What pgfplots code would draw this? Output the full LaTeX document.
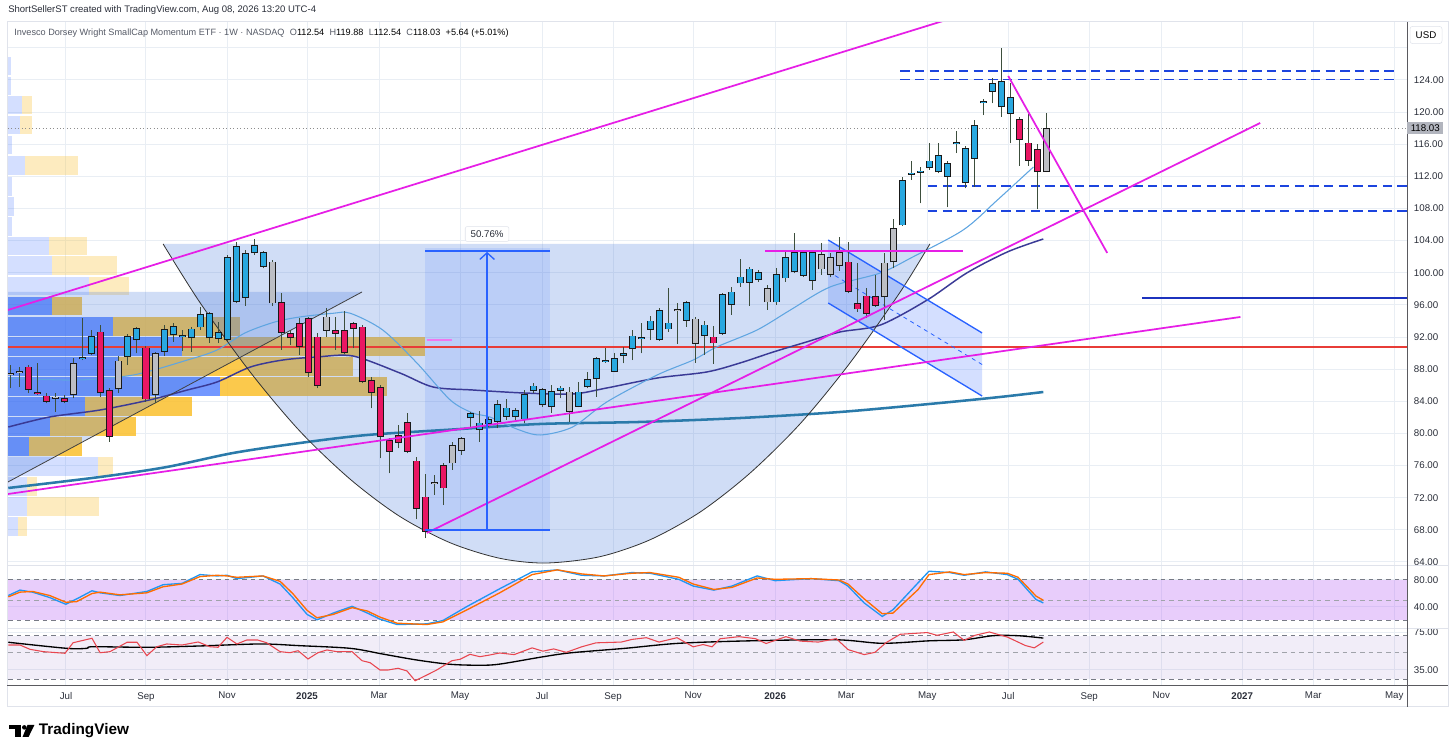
\documentclass[border=0pt]{standalone}
\usepackage{pgfplots}
\pgfplotsset{compat=1.18}
\usepackage{pgfplotstable}
\usepackage{fontspec}
\setmainfont{Liberation Sans}
\usetikzlibrary{arrows.meta}

\definecolor{gridc}{RGB}{233,238,244}
\definecolor{labc}{RGB}{42,46,57}
\definecolor{legc}{RGB}{85,90,102}
\definecolor{framec}{RGB}{224,227,235}
\definecolor{axc}{RGB}{90,90,95}
\definecolor{magc}{RGB}{230,30,230}
\definecolor{pocc}{RGB}{232,60,55}
\definecolor{dashb}{RGB}{28,68,222}
\definecolor{solb}{RGB}{28,50,190}
\definecolor{chb}{RGB}{41,98,255}
\definecolor{cupc}{RGB}{70,120,220}
\definecolor{vpB}{RGB}{41,98,255}
\definecolor{vpY}{RGB}{251,192,45}
\definecolor{slowc}{RGB}{42,122,170}
\definecolor{medc}{RGB}{58,58,150}
\definecolor{fastc}{RGB}{95,165,225}
\definecolor{candB}{RGB}{41,168,224}
\definecolor{candR}{RGB}{233,22,99}
\definecolor{candG}{RGB}{188,190,196}
\definecolor{outc}{RGB}{25,25,25}
\definecolor{wickc}{RGB}{60,78,60}
\definecolor{stB}{RGB}{33,150,243}
\definecolor{stO}{RGB}{255,109,0}
\definecolor{bandc}{RGB}{180,90,245}
\definecolor{rsib}{RGB}{126,87,194}
\definecolor{rsir}{RGB}{232,70,80}
\definecolor{dashg}{RGB}{120,123,134}
\definecolor{pricelab}{RGB}{178,181,190}

\newcommand\tvs{\fontsize{7.3}{8.5}\selectfont}
\newcommand\tvl{\fontsize{6.85}{8}\selectfont}
\newcommand\tvt{\fontsize{7.15}{8.5}\selectfont}

\pgfplotstableread{
i lo bb bt hi c
0 85.62 87.24 87.49 88.52 2
1 85.82 87.56 87.81 88.31 2
2 85.00 85.41 88.31 88.52 1
3 84.79 84.91 85.16 88.73 1
4 83.75 83.95 84.70 85.00 1
5 82.71 84.33 84.58 85.00 2
6 83.75 83.88 84.37 84.79 1
7 84.37 84.79 88.73 89.36 2
8 89.14 89.27 89.52 94.41 0
9 89.77 89.89 92.13 92.88 0
10 84.58 85.00 92.67 93.50 1
11 78.98 79.60 85.41 85.62 1
12 85.00 85.50 89.06 89.64 2
13 88.52 89.55 92.13 92.38 0
14 89.98 91.63 93.09 93.29 0
15 83.95 84.25 90.68 90.89 1
16 83.75 84.79 89.98 90.18 2
17 89.64 90.18 93.00 93.50 0
18 91.42 92.22 93.41 93.71 0
19 90.30 91.97 92.22 92.88 0
20 90.18 91.85 93.04 93.29 0
21 92.88 93.21 94.87 95.70 0
22 91.30 91.85 94.96 95.16 0
23 91.23 91.76 92.59 93.91 0
24 91.51 91.63 102.00 102.22 0
25 96.20 96.40 103.34 103.87 0
26 95.87 96.83 102.50 102.84 0
27 102.22 102.43 103.46 104.17 0
28 100.56 100.76 102.59 102.75 0
29 95.87 96.20 101.38 101.59 2
30 90.39 92.54 96.36 97.52 1
31 91.01 91.92 92.54 92.88 1
32 89.77 90.73 93.71 94.34 1
33 87.07 87.49 94.34 94.46 1
34 85.62 85.91 92.05 92.47 1
35 92.05 92.76 94.54 95.58 2
36 90.39 92.38 92.88 94.54 1
37 89.89 89.98 92.88 95.28 1
38 90.60 93.04 93.71 93.91 1
39 86.25 86.37 93.29 93.50 1
40 83.13 85.07 86.65 87.07 1
41 76.91 79.52 85.75 86.03 1
42 75.04 77.73 79.18 79.40 1
43 78.15 78.78 79.81 81.05 1
44 77.53 77.73 81.39 82.58 1
45 69.31 70.63 76.61 77.11 1
46 66.95 67.77 72.13 74.95 1
47 72.34 73.71 73.96 74.83 2
48 71.09 73.17 76.07 76.28 1
49 75.45 76.28 78.56 78.98 2
50 77.32 77.86 79.40 79.60 2
51 80.84 81.89 82.51 82.71 0
52 78.98 80.43 81.34 82.83 0
53 80.84 81.18 81.76 82.09 0
54 80.64 81.46 83.63 84.17 0
55 81.68 82.09 83.21 84.25 0
56 81.68 82.01 82.92 83.13 0
57 81.34 81.76 84.87 85.41 0
58 85.00 85.25 85.95 86.25 0
59 83.33 83.54 85.50 85.62 0
60 82.58 83.33 85.32 86.03 0
61 84.37 85.29 85.70 85.91 0
62 81.46 82.71 85.20 85.78 2
63 83.25 83.33 85.20 86.44 0
64 85.62 85.75 86.74 87.69 0
65 84.58 86.74 89.36 89.55 0
66 88.81 88.93 89.18 90.60 0
67 87.61 87.69 89.36 90.05 0
68 88.73 89.68 90.05 90.80 0
69 89.14 90.48 92.17 92.88 0
70 89.98 91.76 92.01 93.79 0
71 91.63 92.88 94.04 94.62 0
72 91.55 91.63 95.37 95.58 0
73 92.67 92.96 93.79 98.07 0
74 91.14 95.21 95.46 96.28 2
75 93.29 94.04 96.32 96.45 0
76 88.81 91.14 94.29 94.54 2
77 89.77 92.13 93.55 93.96 0
78 88.65 91.22 92.05 93.38 1
79 92.26 92.38 97.36 97.52 0
80 94.75 96.00 97.65 98.27 0
81 98.27 98.69 99.52 101.68 0
82 95.87 98.77 100.51 100.76 0
83 98.89 99.10 100.06 100.35 0
84 95.37 96.32 98.07 98.48 2
85 96.00 96.32 99.81 100.56 0
86 98.89 99.31 101.93 102.63 0
87 99.94 100.06 102.59 104.92 0
88 99.52 99.60 102.59 102.84 0
89 97.86 98.98 102.59 102.84 0
90 99.73 100.43 102.34 103.67 2
91 99.44 99.73 102.00 102.43 2
92 100.26 100.85 102.55 104.49 2
93 97.45 97.65 101.38 103.87 1
94 95.16 95.45 96.20 101.26 1
95 94.34 94.87 97.15 98.07 1
96 95.78 95.90 97.11 99.73 1
97 94.12 96.95 101.26 102.43 2
98 100.56 101.31 105.54 106.66 2
99 105.83 105.91 111.55 111.96 0
100 111.55 112.21 112.46 113.96 0
101 108.65 112.46 112.71 113.21 0
102 112.80 113.01 113.96 116.20 0
103 112.39 112.51 114.63 116.20 0
104 108.15 111.96 113.63 113.96 0
105 114.88 116.03 116.28 117.65 0
106 110.52 111.14 115.50 115.78 0
107 110.72 114.17 118.40 119.02 0
108 119.64 121.10 121.35 121.60 0
109 121.10 122.54 123.59 124.21 0
110 119.43 120.60 123.91 127.95 0
111 116.12 119.77 121.85 123.59 0
112 113.30 116.53 119.15 119.36 1
113 113.30 113.92 116.20 119.77 1
114 107.90 112.51 115.37 116.03 1
115 112.54 112.54 118.03 119.88 2
}\candles

\pgfplotstableread{
yc xb xy va
125.74 0 0 0
123.25 0 0 0
120.89 1.22 2.33 0
118.40 1.0 2.33 0
115.91 0.11 0.11 0
113.36 1.56 7.44 0
110.74 0.11 0.11 0
108.25 0.33 0.33 0
105.76 0.11 0.11 0
103.34 4.22 8.44 0
100.91 4.56 11.78 0
98.36 8.67 13.11 0
95.87 4.56 7.89 1
93.32 11.33 25.44 1
90.83 19.0 46.0 1
88.34 12.0 38.0 1
85.85 23.22 41.78 1
83.36 8.22 20.11 1
80.87 4.33 13.89 1
78.38 2.0 7.89 1
75.89 9.67 11.33 0
73.40 1.78 2.89 0
70.91 1.78 9.78 0
68.42 0.78 1.78 0
}\vprof

\pgfplotsset{
  tvbase/.style={
    scale only axis, width=1049.25pt, anchor=south west,
    xmin=-0.333, xmax=155.11,
    axis line style={draw=none}, tick style={draw=none}, major tick length=0pt,
    xtick={6.11,15,24,32.89,40.89,49.89,59,66.9,75.8,84.9,92.8,101.8,110.8,119.8,127.8,136.8,144.7,153.7},
    xmajorgrids, ymajorgrids,
    grid style={draw=gridc, line width=0.75pt},
    clip mode=individual,
    yticklabel pos=right,
    ticklabel style={font=\tvs, text=labc},
    yticklabel style={anchor=west, inner sep=0pt, xshift=5pt},
  },
  cwick/.style={draw=none, mark=none, forget plot, error bars/.cd, y dir=plus, y explicit, error mark=none, error bar style={line width=0.75pt, draw=wickc}},
  cbody/.style={draw=none, mark=none, forget plot, error bars/.cd, y dir=plus, y explicit, error mark=none, error bar style={line width=5.25pt, draw=outc}},
  cfill/.style={draw=none, mark=none, forget plot, restrict expr to domain={\thisrow{c}}{#1:#1}, error bars/.cd, y dir=plus, y explicit, error mark=none},
  vprow/.style={draw=none, mark=none, forget plot, restrict expr to domain={\thisrow{va}}{#1:#1}, error bars/.cd, x dir=plus, x explicit, error mark=none},
}

\begin{document}
\begin{tikzpicture}
\useasboundingbox (0pt,0pt) rectangle (1092pt,566.25pt);
\fill[white] (0pt,0pt) rectangle (1092pt,566.25pt);

% ================= PRICE PANEL =================
\begin{axis}[tvbase, at={(6pt,141.75pt)}, height=408pt,
  ymin=63.50, ymax=131.22,
  ytick={64,68,72,76,80,84,88,92,96,100,104,108,112,116,120,124,128},
  yticklabels={64.00,68.00,72.00,76.00,80.00,84.00,88.00,92.00,96.00,100.00,104.00,108.00,112.00,116.00,120.00,124.00,{}},
  xticklabels={}]

% volume profile (outside / inside value area)
\addplot[vprow=0, error bar style={line width=13.9pt, draw=vpB, draw opacity=0.2}] table[x expr=-0.333, y=yc, x error plus expr=\thisrow{xb}+0.333] {\vprof};
\addplot[vprow=0, error bar style={line width=13.9pt, draw=vpY, draw opacity=0.3}] table[x=xb, y=yc, x error plus expr=\thisrow{xy}-\thisrow{xb}] {\vprof};
\addplot[vprow=1, error bar style={line width=13.9pt, draw=vpB, draw opacity=0.66}] table[x expr=-0.333, y=yc, x error plus expr=\thisrow{xb}+0.333] {\vprof};
\addplot[vprow=1, error bar style={line width=13.9pt, draw=vpY, draw opacity=0.85}] table[x=xb, y=yc, x error plus expr=\thisrow{xy}-\thisrow{xb}] {\vprof};

% triangle shade
\addplot[forget plot, draw=none, fill=cupc, fill opacity=0.25] coordinates {(-0.333,97.61) (39.0,97.61) (-0.333,73.96)};
% cup fill
\addplot[forget plot, draw=none, fill=cupc, fill opacity=0.25, smooth] coordinates {
(16.9,103.59) (21.0,96.29) (26.6,87.61) (32.1,80.28) (37.7,74.29) (43.2,69.67) (48.8,66.39) (54.3,64.46) (59.4,63.87) (65.4,64.65) (71.0,66.76) (76.6,70.24) (82.1,75.05) (87.7,81.23) (93.2,88.75) (98.8,97.61) (102.1,103.59)};
% measure box
\addplot[forget plot, draw=none, fill=chb, fill opacity=0.12] coordinates {(46.0,67.98) (59.9,67.98) (59.9,103.09) (46.0,103.09)};
% channel fill
\addplot[forget plot, draw=none, fill=chb, fill opacity=0.2] coordinates {(90.8,104.08) (107.9,92.51) (107.9,84.66) (90.8,96.24)};

% POC line and last price line
\addplot[forget plot, pocc, line width=1.1pt] coordinates {(-0.333,90.76) (155.11,90.76)};
\addplot[forget plot, black!45, line width=0.6pt, dotted] coordinates {(-0.333,118.03) (155.11,118.03)};

% moving averages
\addplot[forget plot, slowc, line width=1.9pt, smooth] coordinates {
(-0.3,73.21) (9.9,74.58) (17.3,75.82) (24.7,77.57) (32.1,78.81) (39.6,79.81) (49.9,80.55) (58.8,81.18) (69.9,81.43) (81.0,81.92) (92.1,82.67) (103.2,83.79) (109.9,84.54) (114.7,85.16)};
\addplot[forget plot, medc, line width=1.1pt, smooth] coordinates {
(-0.3,80.80) (4.3,82.05) (9.9,82.92) (15.4,84.17) (19.6,85.41) (22.9,86.41) (26.6,88.27) (30.2,89.14) (34.0,89.52) (38.0,89.64) (43.2,87.53) (46.9,85.78) (51.3,85.41) (56.9,85.04) (62.4,84.91) (66.2,85.66) (71.8,86.90) (77.3,87.65) (81.0,88.77) (84.7,90.14) (88.4,91.39) (92.1,92.63) (96.6,93.50) (101.8,96.61) (106.2,99.98) (110.7,102.59) (114.7,104.21)};
\addplot[forget plot, fastc, line width=0.8pt, smooth] coordinates {
(-0.3,86.90) (7.3,86.65) (13.6,87.28) (19.6,89.14) (22.9,90.39) (26.0,92.51) (29.3,93.87) (32.1,94.50) (35.8,94.96) (37.7,94.96) (41.3,92.88) (45.1,88.77) (48.8,84.17) (51.3,82.55) (53.2,82.05) (56.2,80.55) (58.8,79.81) (62.4,80.80) (66.2,83.92) (71.8,87.28) (75.8,89.14) (78.4,90.76) (82.9,92.88) (86.6,95.37) (91.0,98.23) (96.6,99.98) (100.2,101.97) (105.8,105.33) (109.6,109.06) (113.6,113.17)};

% cup arc and triangle edge
\addplot[forget plot, black!80, line width=0.6pt, smooth] coordinates {
(16.9,103.59) (21.0,96.29) (26.6,87.61) (32.1,80.28) (37.7,74.29) (43.2,69.67) (48.8,66.39) (54.3,64.46) (59.4,63.87) (65.4,64.65) (71.0,66.76) (76.6,70.24) (82.1,75.05) (87.7,81.23) (93.2,88.75) (98.8,97.61) (102.1,103.59)};
\addplot[forget plot, black!75, line width=0.6pt] coordinates {(-0.333,73.96) (39.0,97.61)};

% horizontal levels
\addplot[forget plot, dashb, line width=1.1pt, dash pattern=on 7pt off 4pt] coordinates {(98.8,125.12) (154.0,125.12)};
\addplot[forget plot, dashb, line width=1.1pt, dash pattern=on 7pt off 4pt] coordinates {(98.8,124.09) (154.0,124.09)};
\addplot[forget plot, dashb, line width=1.1pt, dash pattern=on 7pt off 4pt] coordinates {(101.9,110.81) (155.11,110.81)};
\addplot[forget plot, dashb, line width=1.1pt, dash pattern=on 7pt off 4pt] coordinates {(101.9,107.69) (155.11,107.69)};
\addplot[forget plot, solb, line width=1pt] coordinates {(125.7,96.86) (155.11,96.86)};

% channel lines
\addplot[forget plot, chb, line width=1pt] coordinates {(90.8,104.08) (107.9,92.51)};
\addplot[forget plot, chb, line width=1pt] coordinates {(90.8,96.24) (107.9,84.66)};
\addplot[forget plot, chb, line width=0.6pt, dash pattern=on 3pt off 3pt] coordinates {(90.8,100.16) (107.9,88.58)};

% candles
\addplot[cwick] table[x=i, y=lo, y error plus expr=\thisrow{hi}-\thisrow{lo}] {\candles};
\addplot[cbody] table[x=i, y=bb, y error plus expr=\thisrow{bt}-\thisrow{bb}] {\candles};
\addplot[cfill=0, error bar style={line width=3.75pt, draw=candB}] table[x=i, y expr=\thisrow{bb}+0.1, y error plus expr={max(\thisrow{bt}-\thisrow{bb}-0.2,0)}] {\candles};
\addplot[cfill=1, error bar style={line width=3.75pt, draw=candR}] table[x=i, y expr=\thisrow{bb}+0.1, y error plus expr={max(\thisrow{bt}-\thisrow{bb}-0.2,0)}] {\candles};
\addplot[cfill=2, error bar style={line width=3.75pt, draw=candG}] table[x=i, y expr=\thisrow{bb}+0.1, y error plus expr={max(\thisrow{bt}-\thisrow{bb}-0.2,0)}] {\candles};

% magenta trend lines
\addplot[forget plot, magc, line width=1.3pt] coordinates {(-0.333,95.37) (104.0,131.5)};
\addplot[forget plot, magc, line width=1.3pt] coordinates {(-0.333,72.46) (136.6,94.50)};
\addplot[forget plot, magc, line width=1.3pt] coordinates {(46.2,67.61) (138.8,118.65)};
\addplot[forget plot, magc, line width=1.3pt] coordinates {(83.8,102.71) (105.8,102.71)};
\addplot[forget plot, magc, line width=1.3pt] coordinates {(110.8,124.50) (121.8,102.47)};
\addplot[forget plot, magc!60, line width=1pt] coordinates {(46.2,91.63) (49.0,91.63)};

% price range measurement
\addplot[forget plot, chb, line width=1pt] coordinates {(46.0,102.71) (59.9,102.71)};
\addplot[forget plot, chb, line width=1pt] coordinates {(46.0,67.98) (59.9,67.98)};
\addplot[forget plot, chb, line width=1pt, -{Straight Barb[length=5pt,width=11pt]}] coordinates {(52.9,67.98) (52.9,102.6)};
\node[fill=white, draw=framec, rounded corners=1.5pt, font=\tvs, text=labc, inner xsep=4pt, inner ysep=3pt] at (axis cs:52.9,104.83) {50.76\%};
\end{axis}

% ================= STOCH RSI PANEL =================
\begin{axis}[tvbase, at={(6pt,94.5pt)}, height=47.25pt,
  ymin=7.41, ymax=100.74, ytick={40,80}, yticklabels={40.00,80.00},
  xticklabels={}]
\addplot[forget plot, draw=none, fill=bandc, fill opacity=0.3] coordinates {(-0.333,20) (155.11,20) (155.11,80) (-0.333,80)};
\addplot[forget plot, dashg, line width=0.75pt, dash pattern=on 3.5pt off 3pt] coordinates {(-0.333,80) (155.11,80)};
\addplot[forget plot, dashg!70, line width=0.6pt, dash pattern=on 3.5pt off 3pt] coordinates {(-0.333,50) (155.11,50)};
\addplot[forget plot, dashg, line width=0.75pt, dash pattern=on 3.5pt off 3pt] coordinates {(-0.333,20) (155.11,20)};
\addplot[forget plot, stB, line width=1pt] coordinates {
(-0.3,57) (1.0,65) (2.4,62) (4.3,54) (6.1,44) (7.3,52) (9.0,64) (9.9,61) (12.1,57) (15.1,63) (16.9,73) (19.0,75) (21.0,88) (22.9,86) (24.0,87) (25.1,82) (28.0,86) (29.9,74) (31.3,54) (32.9,29) (34.0,21) (35.8,31) (37.9,41) (39.6,31) (41.0,22) (42.9,14) (46.2,15) (48.0,20) (50.7,41) (54.3,67) (57.9,92) (60.7,95) (63.4,87) (65.9,86) (69.0,91) (71.0,90) (74.2,81) (75.8,71) (78.1,65) (80.1,71) (82.9,86) (84.9,79) (88.9,82) (92.0,79) (93.0,71) (94.8,46) (96.8,26) (98.0,36) (100.8,76) (102.0,93) (104.3,91) (105.9,87) (108.3,92) (110.7,88) (111.9,81) (113.9,51) (114.7,46)};
\addplot[forget plot, stO, line width=1pt] coordinates {
(-0.3,55) (1.0,62) (2.4,63) (4.3,57) (6.1,47) (7.3,48) (9.0,60) (9.9,62) (12.1,58) (15.1,61) (16.9,70) (19.0,74) (21.0,85) (22.9,87) (24.0,86) (25.1,84) (28.0,86) (29.9,78) (31.3,60) (32.9,35) (34.0,24) (35.8,29) (37.9,39) (39.6,34) (41.0,25) (42.9,16) (46.2,14) (48.0,18) (50.7,36) (54.3,61) (57.9,88) (60.7,95) (63.4,89) (65.9,86) (69.0,90) (71.0,91) (74.2,84) (75.8,74) (78.1,66) (80.1,69) (82.9,83) (84.9,81) (88.9,82) (92.0,80) (93.0,74) (94.8,52) (96.8,30) (98.0,31) (100.8,66) (102.0,88) (104.3,92) (105.9,88) (108.3,91) (110.7,90) (111.9,84) (113.9,56) (114.7,50)};
\end{axis}

% ================= RSI PANEL =================
\begin{axis}[tvbase, at={(6pt,51.75pt)}, height=42.75pt,
  ymin=18.16, ymax=78.16, ytick={35,75}, yticklabels={35.00,75.00},
  xticklabels={Jul,Sep,Nov,\textbf{2025},Mar,May,Jul,Sep,Nov,\textbf{2026},Mar,May,Jul,Sep,Nov,\textbf{2027},Mar,May},
  xticklabel style={anchor=north, inner sep=0pt, yshift=-4.5pt}]
\addplot[forget plot, draw=none, fill=rsib, fill opacity=0.1] coordinates {(-0.333,25.5) (155.11,25.5) (155.11,70.8) (-0.333,70.8)};
\addplot[forget plot, dashg, line width=0.75pt, dash pattern=on 3.5pt off 3pt] coordinates {(-0.333,70.8) (155.11,70.8)};
\addplot[forget plot, dashg!70, line width=0.6pt, dash pattern=on 3.5pt off 3pt] coordinates {(-0.333,53.9) (155.11,53.9)};
\addplot[forget plot, dashg, line width=0.75pt, dash pattern=on 3.5pt off 3pt] coordinates {(-0.333,25.5) (155.11,25.5)};
\addplot[forget plot, black, line width=1pt, smooth] coordinates {
(-0.3,64.2) (6.2,57.8) (8.4,57.8) (9.1,59.5) (15.1,58.9) (21.0,60.3) (27.7,62.4) (32.1,60.6) (37.7,57.8) (41.3,51.8) (45.1,45.5) (48.8,41.0) (52.1,40.0) (54.3,41.2) (59.1,48.9) (62.2,53.1) (68.2,57.8) (74.2,63.1) (82.1,65.7) (91.7,66.8) (96.8,63.1) (102.0,65.7) (105.9,66.8) (109.1,71.1) (111.9,71.1) (114.7,68.6)};
\addplot[forget plot, rsir, line width=0.8pt] coordinates {
(-0.3,61.3) (1.0,61.3) (2.1,56.8) (3.6,54.3) (6.0,52.6) (6.9,63.7) (9.0,68.4) (9.9,53.2) (11.0,54.3) (12.9,64.2) (14.0,64.2) (15.1,50.1) (16.2,59.5) (17.3,62.4) (19.0,61.3) (20.8,64.5) (22.1,59.5) (23.0,58.9) (24.0,69.4) (25.1,62.4) (26.2,66.6) (27.4,66.6) (28.4,63.7) (29.9,54.3) (31.0,53.2) (31.9,55.3) (33.0,46.6) (34.1,53.2) (35.1,56.1) (36.2,54.3) (37.9,54.3) (39.0,44.8) (39.9,42.7) (41.0,35.0) (41.9,35.0) (43.0,36.8) (44.0,34.0) (44.9,23.7) (46.2,29.7) (47.3,35.0) (49.0,44.8) (49.9,46.3) (51.0,51.5) (52.1,49.0) (53.2,50.8) (54.3,52.9) (55.9,51.2) (57.9,58.3) (59.1,54.8) (60.3,57.2) (61.7,53.6) (63.4,59.4) (65.0,63.6) (67.8,64.4) (69.0,67.2) (70.6,69.0) (72.0,64.4) (74.0,69.0) (75.8,59.4) (76.9,61.8) (77.9,59.4) (78.8,67.9) (80.9,70.1) (82.7,68.0) (83.9,62.9) (86.1,70.1) (87.7,65.4) (89.7,64.4) (91.7,68.0) (93.0,56.5) (94.8,51.2) (96.0,53.6) (97.2,63.6) (98.8,72.6) (101.8,74.4) (102.9,71.5) (104.7,75.0) (105.9,66.2) (107.1,71.5) (108.7,75.0) (110.7,69.7) (112.7,60.8) (113.7,58.3) (114.7,64.4)};
\end{axis}

% ================= frame, separators, labels =================
\draw[framec, line width=0.75pt] (5.25pt,36pt) rectangle (1086pt,549.75pt);
\draw[framec, line width=0.75pt] (5.25pt,141.75pt) -- (1086pt,141.75pt);
\draw[framec, line width=0.75pt] (5.25pt,94.5pt) -- (1086pt,94.5pt);
\draw[axc, line width=0.75pt] (5.25pt,51.75pt) -- (1086pt,51.75pt);
\draw[axc, line width=0.75pt] (1055.25pt,36pt) -- (1055.25pt,549.75pt);

\node[anchor=west, font=\tvt, text=labc, inner sep=0pt] at (6pt,558.75pt) {ShortSellerST created with TradingView.com, Aug 08, 2026 13:20 UTC-4};
\node[anchor=west, font=\tvl, text=legc, inner sep=0pt] at (10.5pt,541.5pt) {Invesco Dorsey Wright SmallCap Momentum ETF · 1W · NASDAQ\hspace{4pt}O\textcolor{black}{112.54}\hspace{4pt}H\textcolor{black}{119.88}\hspace{4pt}L\textcolor{black}{112.54}\hspace{4pt}C\textcolor{black}{118.03}\hspace{4pt}\textcolor{black}{+5.64 (+5.01\%)}};

\node[draw=framec, fill=white, rounded corners=2pt, minimum width=24pt, minimum height=13pt, inner sep=0pt, font=\tvs, text=black] at (1069.5pt,540pt) {USD};
\node[fill=pricelab, text=black, anchor=west, inner sep=0pt, minimum width=27pt, minimum height=8.5pt, font=\tvs] at (1055.25pt,470.25pt) {118.03};

% TradingView logo
\fill[black] (6.75pt,22.5pt) rectangle (15.75pt,19.3pt);
\fill[black] (11.6pt,22.5pt) rectangle (15.75pt,13.5pt);
\fill[black] (18.2pt,20.7pt) circle (1.7pt);
\fill[black] (20.6pt,22.5pt) -- (25.8pt,22.5pt) -- (21.4pt,13.5pt) -- (16.9pt,13.5pt) -- cycle;
\node[anchor=west, inner sep=0pt, font=\fontsize{11.5}{13}\selectfont\bfseries] at (29pt,18.2pt) {TradingView};
\end{tikzpicture}
\end{document}
